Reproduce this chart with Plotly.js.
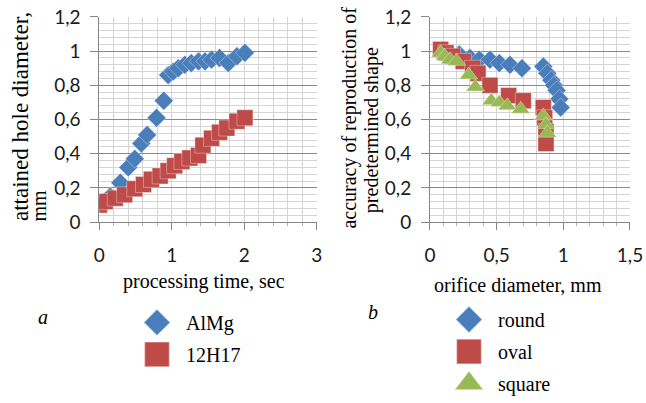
<!DOCTYPE html>
<html>
<head>
<meta charset="utf-8">
<script src="https://cdn.plot.ly/plotly-3.0.1.min.js"></script>
<style>html,body{margin:0;padding:0;background:#fff}#chart{width:646px;height:403px}</style>
</head>
<body>
<div id="chart"></div>
<script>
// Panel a: attained hole diameter vs processing time
const almgX = [0.07, 0.15, 0.29, 0.40, 0.49, 0.58, 0.66, 0.79, 0.89, 0.95, 1.02, 1.09, 1.18, 1.27, 1.37, 1.46, 1.55, 1.66, 1.78, 1.90, 2.01];
const almgY = [0.11, 0.15, 0.23, 0.32, 0.37, 0.46, 0.51, 0.61, 0.71, 0.86, 0.88, 0.90, 0.92, 0.93, 0.94, 0.94, 0.95, 0.96, 0.93, 0.97, 0.99];
const h17X = [0.00, 0.08, 0.22, 0.35, 0.49, 0.61, 0.72, 0.84, 0.95, 1.04, 1.14, 1.25, 1.37, 1.43, 1.55, 1.66, 1.76, 1.90, 2.01];
const h17Y = [0.10, 0.12, 0.14, 0.16, 0.195, 0.22, 0.25, 0.27, 0.30, 0.33, 0.355, 0.375, 0.39, 0.45, 0.49, 0.525, 0.55, 0.59, 0.61];

// Panel b: accuracy of reproduction vs orifice diameter
const roundX = [0.10, 0.16, 0.22, 0.30, 0.37, 0.45, 0.52, 0.60, 0.69, 0.85, 0.88, 0.91, 0.93, 0.95, 0.97, 0.98];
const roundY = [0.99, 0.98, 0.98, 0.96, 0.95, 0.95, 0.93, 0.92, 0.90, 0.91, 0.87, 0.83, 0.80, 0.77, 0.72, 0.67];
const ovalX = [0.08, 0.12, 0.17, 0.25, 0.32, 0.36, 0.45, 0.59, 0.70, 0.85, 0.86, 0.87, 0.87];
const ovalY = [1.01, 0.99, 0.97, 0.94, 0.90, 0.87, 0.80, 0.74, 0.71, 0.67, 0.61, 0.53, 0.46];
const squareX = [0.08, 0.11, 0.15, 0.20, 0.29, 0.34, 0.46, 0.52, 0.58, 0.68, 0.85, 0.87, 0.88];
const squareY = [0.99, 0.97, 0.95, 0.94, 0.86, 0.79, 0.71, 0.70, 0.68, 0.66, 0.62, 0.57, 0.52];

const leftTicks = [0, 1, 2, 3];
const rightTicks = [0, 0.5, 1, 1.5];
const yTicks = [0, 0.2, 0.4, 0.6, 0.8, 1, 1.2];

const BLUE = '#4a7ebb', RED = '#be4b48', GREEN = '#98b954';
const serif = 'Liberation Serif, Times New Roman, serif';
const tickFont = {family: 'Lato, Carlito, sans-serif', size: 19, color: '#1a1a1a'};

function mk(x, y, name, color, symbol, size, xa, ya, legend) {
  return {
    type: 'scatter', mode: 'markers', x: x, y: y, name: name,
    xaxis: xa, yaxis: ya, legend: legend, legendgroup: name,
    marker: {color: color, symbol: symbol, size: size, line: {color: 'rgba(255,255,255,0.35)', width: 1}},
    hoverinfo: 'x+y'
  };
}

const traces = [
  mk(almgX, almgY, 'AlMg', BLUE, 'diamond', 14.5, 'x', 'y', 'legend'),
  mk(h17X, h17Y, '12H17', RED, 'square', 16, 'x', 'y', 'legend'),
  mk(roundX, roundY, 'round', BLUE, 'diamond', 14.5, 'x2', 'y2', 'legend2'),
  mk(ovalX, ovalY, 'oval', RED, 'square', 16, 'x2', 'y2', 'legend2'),
  mk(squareX, squareY, 'square', GREEN, 'triangle-up', 16, 'x2', 'y2', 'legend2')
];

function xAxis(domain, range, ticks, minorStep, anchor) {
  return {
    domain: domain, range: range, anchor: anchor,
    tickmode: 'array', tickvals: ticks,
    showline: true, linecolor: '#868686', linewidth: 1,
    ticks: 'outside', ticklen: 7, tickcolor: '#868686',
    showgrid: true, gridcolor: '#d4d4d4', gridwidth: 1,
    minor: {dtick: minorStep, showgrid: true, gridcolor: '#d4d4d4', ticks: 'outside', ticklen: 3, tickcolor: '#b0b0b0'},
    zeroline: false, tickfont: tickFont, fixedrange: true,
    ticklabelstandoff: 9
  };
}
function yAxis(anchor) {
  return {
    domain: [0.4305, 0.9566], range: [0, 1.2], anchor: anchor,
    tickmode: 'array', tickvals: yTicks,
    showline: true, linecolor: '#868686', linewidth: 1,
    ticks: 'outside', ticklen: 8, tickcolor: '#868686',
    showgrid: true, gridcolor: '#8a8a8a', gridwidth: 1,
    minor: {dtick: 0.04, showgrid: true, gridcolor: '#d4d4d4'},
    zeroline: false, tickfont: tickFont, fixedrange: true,
    ticklabelstandoff: 6
  };
}

const legendBase = {
  orientation: 'v', bgcolor: 'rgba(0,0,0,0)', borderwidth: 0,
  font: {family: serif, size: 20, color: '#000'},
  itemwidth: 48, tracegroupgap: 3, xanchor: 'left', yanchor: 'top'
};

const titleFont = {family: serif, size: 20, color: '#000'};

const layout = {
  width: 646, height: 403,
  margin: {l: 0, r: 0, t: 0, b: 0},
  paper_bgcolor: '#fff', plot_bgcolor: '#fff',
  separators: ',.',
  showlegend: true,
  xaxis: xAxis([0.1537, 0.4902], [0, 3], leftTicks, 0.2, 'y'),
  yaxis: yAxis('x'),
  xaxis2: xAxis([0.6656, 0.9752], [0, 1.5], rightTicks, 0.1, 'y2'),
  yaxis2: yAxis('x2'),
  legend: Object.assign({}, legendBase, {x: 128 / 646, y: 1 - 313 / 403}),
  legend2: Object.assign({}, legendBase, {x: 440 / 646, y: 1 - 310 / 403}),
  annotations: [
    {text: 'attained hole diameter,', xref: 'paper', yref: 'paper', x: 20 / 646, y: 1 - 231 / 403,
     xanchor: 'center', yanchor: 'bottom', textangle: -90, showarrow: false, font: {family: serif, size: 23, color: '#000'}},
    {text: 'mm', xref: 'paper', yref: 'paper', x: 39 / 646, y: 1 - 231 / 403,
     xanchor: 'center', yanchor: 'bottom', textangle: -90, showarrow: false, font: titleFont},
    {text: 'accuracy of reproduction of', xref: 'paper', yref: 'paper', x: 350 / 646, y: 1 - 121.5 / 403,
     xanchor: 'center', yanchor: 'middle', textangle: -90, showarrow: false, font: titleFont},
    {text: 'predetermined shape', xref: 'paper', yref: 'paper', x: 371 / 646, y: 1 - 134.5 / 403,
     xanchor: 'center', yanchor: 'middle', textangle: -90, showarrow: false, font: titleFont},
    {text: 'processing time, sec', xref: 'paper', yref: 'paper', x: 204 / 646, y: 1 - 291 / 403,
     xanchor: 'center', yanchor: 'middle', showarrow: false, font: titleFont},
    {text: 'orifice diameter, mm', xref: 'paper', yref: 'paper', x: 518 / 646, y: 1 - 295 / 403,
     xanchor: 'center', yanchor: 'middle', showarrow: false, font: titleFont},
    {text: '<i>a</i>', xref: 'paper', yref: 'paper', x: 43 / 646, y: 1 - 328 / 403,
     xanchor: 'center', yanchor: 'middle', showarrow: false, font: titleFont},
    {text: '<i>b</i>', xref: 'paper', yref: 'paper', x: 373 / 646, y: 1 - 322 / 403,
     xanchor: 'center', yanchor: 'middle', showarrow: false, font: titleFont}
  ]
};

Plotly.newPlot('chart', traces, layout, {displayModeBar: false, staticPlot: true}).then(function () {
  // enlarge legend glyphs to match the reference's large legend keys
  document.querySelectorAll('.legendpoints path.scatterpts').forEach(function (p) {
    const d = p.getAttribute('d') || '';
    const isDiamond = /^M[\d.]+,0L/.test(d);
    const t = p.getAttribute('transform') || '';
    p.setAttribute('transform', t + ' scale(' + (isDiamond ? 1.4 : 1.55) + ')');
  });
});
</script>
</body>
</html>
